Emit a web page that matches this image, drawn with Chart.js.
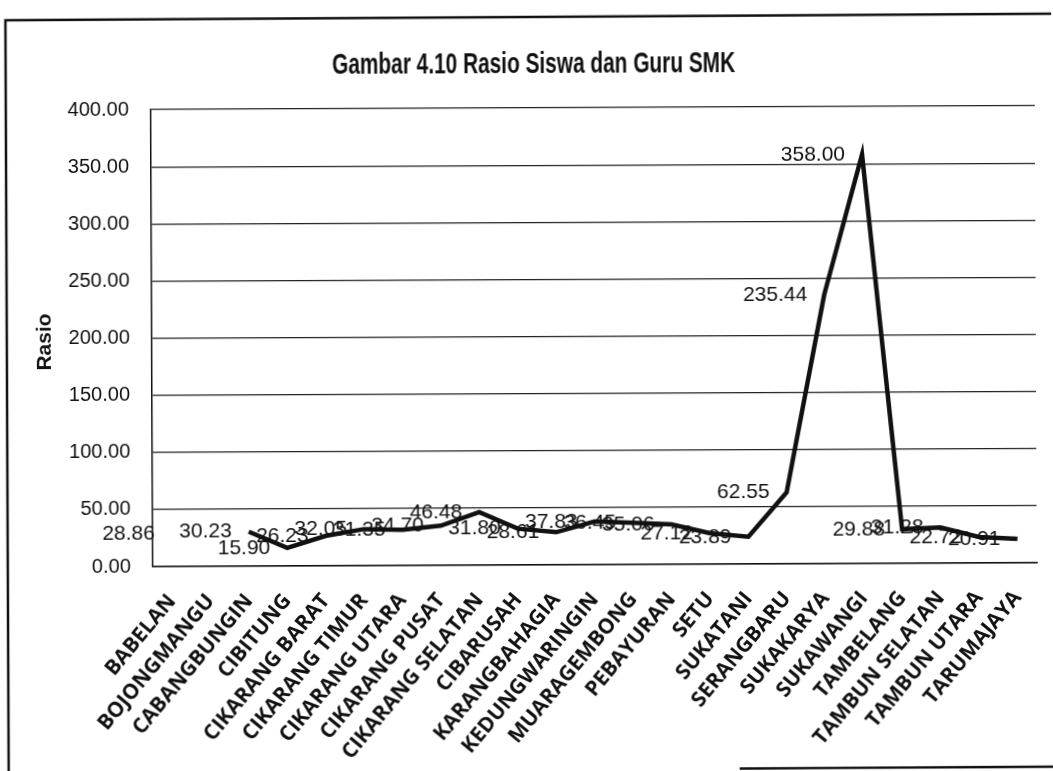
<!DOCTYPE html>
<html>
<head>
<meta charset="utf-8">
<script src="https://cdn.jsdelivr.net/npm/chart.js@4.4.1/dist/chart.umd.min.js"></script>
<style>
  html, body { margin: 0; padding: 0; background: #fff; overflow: hidden; }
  #wrap { width: 1053px; height: 771px; transform: rotate(-0.25deg); transform-origin: 50% 50%; }
  canvas { display: block; }
</style>
</head>
<body>
<div id="wrap"><canvas id="c" width="1053" height="771"></canvas></div>
<script>
// Kecamatan di Kabupaten Bekasi
const kecamatan = [
  'BABELAN', 'BOJONGMANGU', 'CABANGBUNGIN', 'CIBITUNG', 'CIKARANG BARAT',
  'CIKARANG TIMUR', 'CIKARANG UTARA', 'CIKARANG PUSAT', 'CIKARANG SELATAN',
  'CIBARUSAH', 'KARANGBAHAGIA', 'KEDUNGWARINGIN', 'MUARAGEMBONG', 'PEBAYURAN',
  'SETU', 'SUKATANI', 'SERANGBARU', 'SUKAKARYA', 'SUKAWANGI', 'TAMBELANG',
  'TAMBUN SELATAN', 'TAMBUN UTARA', 'TARUMAJAYA'
];

// Rasio siswa terhadap guru SMK (null = tidak ada data)
const rasio = [
  28.86, null, 30.23, 15.90, 26.23,
  32.05, 31.35, 34.70, 46.48,
  31.80, 28.61, 37.83, 36.45, 35.06,
  27.12, 23.89, 62.55, 235.44, 358.00, 29.88,
  31.28, 22.72, 20.91
];

// Sumbu Y
const yMin = 0;
const yMax = 400;
const yStep = 50;

const judul = 'Gambar 4.10 Rasio Siswa dan Guru SMK';
const judulSumbuY = 'Rasio';

const INK = '#111';

// Bingkai luar dan latar putih
const bingkai = {
  id: 'bingkai',
  beforeDraw(chart) {
    const ctx = chart.ctx;
    ctx.save();
    ctx.fillStyle = '#fff';
    ctx.fillRect(0, 0, chart.width, chart.height);
    ctx.strokeStyle = INK;
    ctx.lineWidth = 2.5;
    ctx.beginPath();
    ctx.moveTo(7, 771);
    ctx.lineTo(7, 18);
    ctx.lineTo(1053, 16);
    ctx.stroke();
    ctx.beginPath();
    ctx.moveTo(738, 769.5);
    ctx.lineTo(1053, 769);
    ctx.stroke();
    ctx.restore();
  }
};

// Judul grafik dan judul sumbu Y
const teks = {
  id: 'teks',
  afterDraw(chart) {
    const ctx = chart.ctx;
    ctx.save();
    ctx.fillStyle = INK;
    ctx.font = "bold 30px 'Liberation Sans Narrow', 'Liberation Sans', sans-serif";
    ctx.textAlign = 'center';
    ctx.textBaseline = 'alphabetic';
    const w = ctx.measureText(judul).width;
    const target = 403;
    ctx.translate(535, 73);
    ctx.scale(target / w, 1);
    ctx.fillText(judul, 0, 0);
    ctx.restore();

    ctx.save();
    ctx.fillStyle = INK;
    ctx.font = "bold 21px 'Liberation Sans', sans-serif";
    ctx.textAlign = 'center';
    ctx.textBaseline = 'middle';
    ctx.translate(45, 340);
    ctx.rotate(-Math.PI / 2);
    ctx.fillText(judulSumbuY, 0, 0);
    ctx.restore();
  }
};

// Label nilai di sebelah kiri tiap titik
const labelNilai = {
  id: 'labelNilai',
  afterDatasetsDraw(chart) {
    const ctx = chart.ctx;
    const meta = chart.getDatasetMeta(0);
    const data = chart.data.datasets[0].data;
    ctx.save();
    ctx.fillStyle = INK;
    ctx.font = "21px 'Liberation Sans', sans-serif";
    ctx.textAlign = 'right';
    ctx.textBaseline = 'middle';
    meta.data.forEach((pt, i) => {
      const v = data[i];
      if (v === null || v === undefined) return;
      ctx.fillText(v.toFixed(2), pt.x - 17, pt.y);
    });
    ctx.restore();
  }
};

new Chart(document.getElementById('c'), {
  type: 'line',
  data: {
    labels: kecamatan,
    datasets: [{
      data: rasio,
      borderColor: INK,
      borderWidth: 4.5,
      pointRadius: 0,
      pointHoverRadius: 0,
      tension: 0,
      spanGaps: false,
      fill: false,
      borderJoinStyle: 'miter',
      borderCapStyle: 'butt'
    }]
  },
  options: {
    responsive: false,
    devicePixelRatio: 1,
    animation: false,
    events: [],
    layout: { padding: { left: 0, right: 17, top: 108, bottom: 0 } },
    plugins: {
      legend: { display: false },
      title: { display: false },
      tooltip: { enabled: false }
    },
    scales: {
      y: {
        min: yMin,
        max: yMax,
        ticks: {
          stepSize: yStep,
          callback: v => Number(v).toFixed(2),
          color: INK,
          font: { family: "'Liberation Sans', sans-serif", size: 20 },
          padding: 22
        },
        grid: { color: '#222', lineWidth: 1.2, drawTicks: false },
        border: { display: true, color: INK, width: 1.5 },
        afterFit(scale) { scale.width = 152; scale.paddingTop = 0; scale.paddingBottom = 0; }
      },
      x: {
        offset: true,
        ticks: {
          autoSkip: false,
          minRotation: 50,
          maxRotation: 50,
          color: INK,
          font: { family: "'Open Sans', sans-serif", size: 21, weight: 'bold' },
          padding: 23
        },
        grid: { display: false, drawTicks: false },
        border: { display: true, color: INK, width: 1.5 },
        afterFit(scale) { scale.height = 206; scale.paddingLeft = 0; scale.paddingRight = 0; }
      }
    }
  },
  plugins: [bingkai, teks, labelNilai]
});
</script>
</body>
</html>
